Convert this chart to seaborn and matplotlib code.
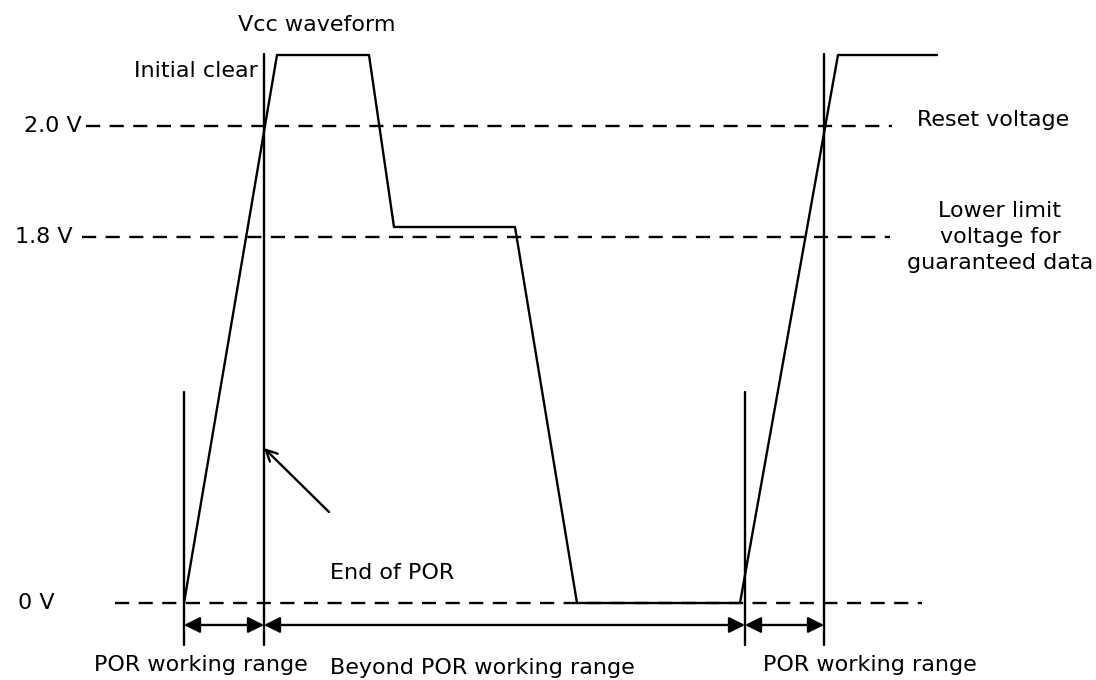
import seaborn as sns
import matplotlib.pyplot as plt
import pandas as pd

sns.set_theme(style="white")
plt.rcParams['font.family'] = ['DejaVu Sans']
plt.rcParams['text.color'] = 'black'

# waveform corners (diagram units, y grows downward)
wave_x = [184, 277, 369, 394, 515, 577, 740, 838, 937]
wave_y = [603, 55, 55, 227, 227, 603, 603, 55, 55]

# reference levels
level_names = ["2.0 V", "1.8 V", "0 V"]
level_y = [126, 237, 603]
level_start = [86, 82, 115]
level_end = [892, 890, 922]

# vertical markers: x, top, bottom
mark_x = [184, 264, 745, 824]
mark_top = [392, 54, 392, 54]
mark_bottom = [645, 645, 645, 645]

range_labels = ["POR working range", "Beyond POR working range", "POR working range"]

df = pd.DataFrame({'t': wave_x, 'v': wave_y})

fig = plt.figure(figsize=(10.96, 6.8), dpi=100)
ax = fig.add_axes([0, 0, 1, 1])
ax.set_xlim(0, 1096)
ax.set_ylim(680, 0)
ax.axis('off')

lw = 1.7
for name, y, x0, x1 in zip(level_names, level_y, level_start, level_end):
    ax.plot([x0, x1], [y, y], color='black', lw=lw, dashes=(6, 4))

sns.lineplot(data=df, x='t', y='v', sort=False, color='black', lw=lw, ax=ax)
ax.set_xlabel('')
ax.set_ylabel('')

for x, top, bot in zip(mark_x, mark_top, mark_bottom):
    ax.plot([x, x], [top, bot], color='black', lw=lw)

# range arrows
for i, lab in enumerate(range_labels):
    a, b = mark_x[i], mark_x[i + 1]
    ax.annotate('', xy=(a, 625), xytext=(b, 625),
                arrowprops=dict(arrowstyle='<|-|>', color='black', lw=lw,
                                mutation_scale=24, shrinkA=0, shrinkB=0))

fs = 16
ax.text(18, 603, "0 V", fontsize=fs, ha='left', va='center')
ax.text(82, 126, "2.0 V", fontsize=fs, ha='right', va='center')
ax.text(73, 237, "1.8 V", fontsize=fs, ha='right', va='center')

ax.text(201, 665, range_labels[0], fontsize=fs, ha='center', va='center')
ax.text(482, 668, range_labels[1], fontsize=fs, ha='center', va='center')
ax.text(870, 665, range_labels[2], fontsize=fs, ha='center', va='center')

ax.text(317, 25, "Vcc waveform", fontsize=fs, ha='center', va='center')
ax.text(258, 71, "Initial clear", fontsize=fs, ha='right', va='center')
ax.text(917, 120, "Reset voltage", fontsize=fs, ha='left', va='center')
ax.text(1000, 237, "Lower limit\nvoltage for\nguaranteed data", fontsize=fs,
        ha='center', va='center', linespacing=1.4)
ax.text(330, 573, "End of POR", fontsize=fs, ha='left', va='center')

ax.annotate('', xy=(264, 448), xytext=(329, 512),
            arrowprops=dict(arrowstyle='->', color='black', lw=lw,
                            mutation_scale=20, shrinkA=0, shrinkB=0))

fig.savefig('out.png', dpi=100)
